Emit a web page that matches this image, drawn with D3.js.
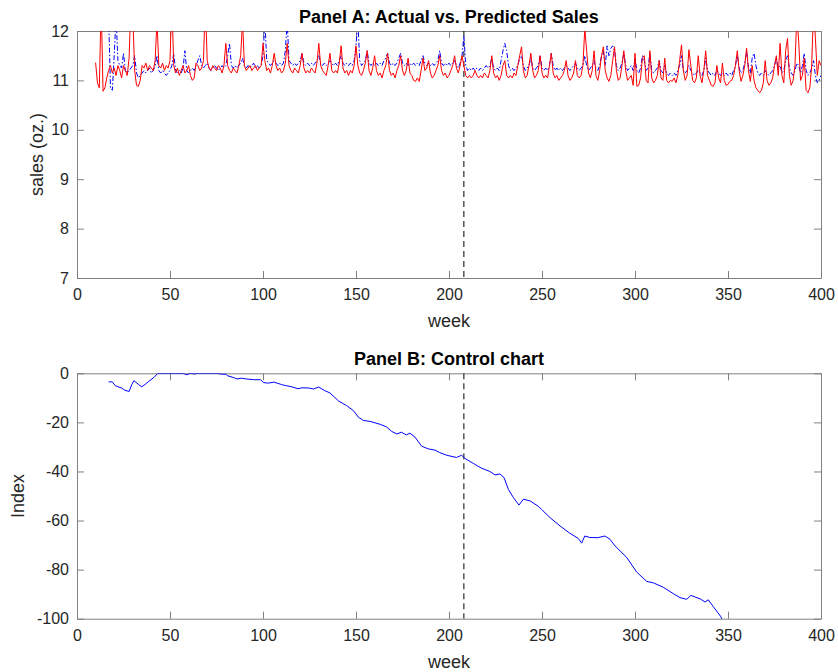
<!DOCTYPE html>
<html>
<head>
<meta charset="utf-8">
<script src="https://cdn.jsdelivr.net/npm/d3@7"></script>
<style>
  body { margin: 0; background: #fff; }
  text { font-family: "Liberation Sans", Arial, sans-serif; }
</style>
</head>
<body>
<div id="main"></div>
<script>
// ---- data ----
var actualStart = 10;   // first week of the actual series
var actualSales = [
  11.36,10.95,10.85,12.6,10.78,10.85,11.05,11.2,11.3,11.15,
  11.25,11.1,11.3,11.2,11.05,11.3,11.2,11.1,11.45,12.6,
  12.3,11.2,10.9,10.88,11.0,11.3,11.25,11.35,11.2,11.3,
  11.25,11.2,11.4,12.2,11.3,11.25,11.35,11.2,11.3,11.25,
  11.4,12.6,11.3,11.15,11.25,11.1,11.2,11.3,11.15,11.2,
  11.3,11.1,11.0,11.05,11.35,11.3,11.2,11.25,11.4,12.6,
  11.4,11.25,11.2,11.3,11.25,11.2,11.3,11.25,11.15,11.3,
  11.75,11.3,11.2,11.15,11.25,11.2,11.15,11.3,11.5,12.2,
  11.3,11.2,11.25,11.3,11.2,11.25,11.3,11.2,11.25,11.3,
  11.75,11.4,11.2,11.25,11.15,11.3,11.55,11.3,11.2,11.25,
  11.15,11.2,11.35,11.75,11.3,11.2,11.15,11.25,11.2,11.15,
  11.3,11.55,11.25,11.15,11.2,11.15,11.25,11.2,11.15,11.35,
  11.75,11.3,11.2,11.15,11.1,11.3,11.55,11.2,11.15,11.2,
  11.15,11.35,11.7,11.25,11.15,11.2,11.1,11.2,11.15,11.3,
  11.7,11.3,11.15,11.1,11.2,11.35,11.6,11.2,11.1,11.25,
  11.5,11.2,11.1,11.15,11.05,11.2,11.3,11.55,11.2,11.1,
  11.15,11.05,11.2,11.3,11.5,11.2,11.1,11.2,11.45,11.15,
  11.1,11.0,10.98,11.05,10.98,11.2,11.45,11.2,11.25,11.4,
  11.15,11.05,11.1,11.2,11.3,11.5,11.2,11.1,11.15,11.05,
  11.1,11.2,11.3,11.5,11.25,11.15,11.3,11.5,11.3,11.1,
  11.05,11.1,11.05,11.1,11.2,11.1,11.05,11.1,11.05,11.15,
  11.1,11.05,11.2,11.5,11.15,11.05,11.1,11.0,11.1,11.3,
  11.4,11.1,11.05,11.1,11.05,11.15,11.1,11.3,11.5,11.68,
  11.2,11.05,11.1,11.3,11.55,11.2,11.05,11.1,11.2,11.5,
  11.15,11.05,11.1,11.05,11.3,11.55,11.15,11.05,11.1,11.0,
  11.05,11.1,11.2,11.4,11.1,11.0,11.05,11.15,11.4,11.1,
  11.05,11.1,11.3,12.05,11.6,11.15,11.05,11.2,11.6,11.1,
  11.0,11.2,11.5,11.68,11.2,11.05,10.98,11.1,11.4,11.68,
  11.2,11.0,11.05,11.3,11.6,11.2,11.0,11.05,11.1,10.9,
  11.55,10.88,10.9,11.05,11.45,11.5,11.0,10.95,11.6,11.05,
  10.95,11.0,11.1,11.4,11.05,11.0,11.45,11.0,10.95,11.0,
  10.98,11.05,10.95,11.1,11.4,11.72,11.2,11.0,11.1,11.62,
  11.3,11.0,10.95,11.05,11.5,11.1,10.95,11.2,11.6,11.1,
  11.0,10.9,10.88,10.95,11.3,11.05,10.95,11.35,11.0,10.9,
  10.92,10.98,11.0,11.1,11.3,11.6,11.2,10.98,11.1,11.3,
  11.65,11.2,10.98,11.3,11.0,10.85,10.8,10.75,10.8,10.95,
  11.4,11.0,10.9,10.95,11.05,11.3,11.5,11.1,11.75,11.1,
  10.95,11.6,11.85,11.1,10.9,11.0,11.3,12.3,11.8,11.0,
  11.1,11.45,10.8,10.75,10.85,11.3,12.5,11.85,11.1,11.4,
  11.3
];

var predictedStart = 17;   // first week of the predicted series
var predictedSales = [
  12.3,10.85,10.8,11.5,12.3,11.4,11.3,11.25,11.55,11.2,
  11.15,11.2,11.25,11.3,11.5,11.15,11.05,11.1,11.15,11.2,
  11.15,11.2,11.25,11.15,11.2,11.3,11.5,11.2,11.15,11.2,
  11.15,11.1,11.15,11.2,11.3,11.55,11.2,11.15,11.2,11.15,
  11.25,11.6,11.2,11.15,11.2,11.25,11.2,11.3,11.4,11.5,
  11.3,11.25,11.3,11.35,11.25,11.2,11.25,11.3,11.25,11.2,
  11.25,11.3,11.25,11.3,11.5,11.75,11.3,11.25,11.3,11.25,
  11.3,11.35,11.45,11.3,11.25,11.3,11.25,11.3,11.35,11.25,
  11.3,11.25,11.3,11.5,12.2,11.4,11.35,11.3,11.35,11.4,
  11.35,11.3,11.35,11.3,11.35,11.6,12.2,11.4,11.35,11.3,
  11.35,11.3,11.35,11.4,11.55,11.35,11.3,11.35,11.3,11.35,
  11.3,11.35,11.4,11.5,11.35,11.3,11.35,11.3,11.35,11.4,
  11.35,11.3,11.35,11.3,11.4,11.5,11.35,11.3,11.35,11.3,
  11.35,11.3,11.4,11.7,12.2,11.4,11.3,11.35,11.4,11.6,
  11.35,11.3,11.35,11.3,11.35,11.3,11.35,11.3,11.4,11.45,
  11.55,11.35,11.3,11.35,11.3,11.35,11.45,11.55,11.35,11.3,
  11.35,11.3,11.35,11.3,11.35,11.3,11.35,11.3,11.4,11.5,
  11.35,11.3,11.35,11.3,11.35,11.3,11.35,11.4,11.6,11.35,
  11.3,11.35,11.3,11.35,11.3,11.35,11.4,11.3,11.25,11.35,
  11.5,11.9,11.3,11.2,11.25,11.2,11.25,11.2,11.25,11.2,
  11.25,11.2,11.25,11.3,11.25,11.3,11.45,11.25,11.2,11.25,
  11.2,11.4,11.6,11.75,11.6,11.3,11.2,11.25,11.2,11.25,
  11.3,11.45,11.5,11.3,11.2,11.25,11.3,11.45,11.25,11.2,
  11.25,11.3,11.5,11.25,11.2,11.25,11.2,11.3,11.55,11.3,
  11.2,11.25,11.2,11.25,11.2,11.25,11.3,11.25,11.2,11.25,
  11.3,11.35,11.25,11.2,11.25,11.3,11.5,11.3,11.2,11.25,
  11.3,11.4,11.25,11.2,11.3,11.5,11.6,11.3,11.7,11.5,
  11.65,11.7,11.6,11.3,11.2,11.25,11.35,11.55,11.3,11.2,
  11.25,11.3,11.2,11.45,11.2,11.15,11.25,11.5,11.4,11.2,
  11.25,11.55,11.2,11.15,11.2,11.25,11.4,11.2,11.15,11.3,
  11.15,11.1,11.15,11.1,11.15,11.1,11.2,11.3,11.5,11.2,
  11.15,11.2,11.3,11.2,11.15,11.1,11.15,11.2,11.15,11.1,
  11.2,11.45,11.2,11.15,11.1,11.15,11.1,11.2,11.15,11.1,
  11.15,11.1,11.15,11.1,11.15,11.1,11.2,11.3,11.5,11.25,
  11.15,11.2,11.35,11.6,11.25,11.15,11.45,11.55,11.3,11.15,
  11.1,11.15,11.1,11.2,11.15,11.1,11.15,11.2,11.3,11.45,
  11.25,11.3,11.15,11.2,11.4,11.5,11.25,11.15,11.1,11.2,
  11.35,11.3,11.15,11.3,11.55,11.2,11.1,11.15,11.25,11.4,
  11.1,10.95,11.0,11.1
];

var controlWeeks = [17,19,20.5,22,24,25.7,28,29.5,30.6,33,34.8,36.7,38.6,41.3,43.5,57,59,61,63,65,75,77.5,80,81,84,86,88.5,91,95,98.6,
  100.4,103,105.8,107.6,110,112,115,118.8,121,124.6,127,130,133,136,140.5,145,148.6,151.3,154,157.6,163,166.5,169.2,172,174.4,177,179,181.7,185.3,188.9,
  192.5,195,198.8,204,206.8,208.6,213,217.6,222,224.7,227.4,229.6,231.9,234.6,237.6,240,243.6,248,249.8,254.3,259.7,265,269.5,271.3,273,275.7,280,283.8,286.5,289.2,
  295.5,300.9,306.3,309.9,315.2,320.6,324.2,327.8,330,335,337.7,339.4,342,346,347];
var controlIndex = [-3.5,-3.5,-5,-5.5,-6,-6.9,-7.4,-4.5,-3,-4.5,-5.5,-4.5,-3.3,-1.7,0,0,-0.6,0,-0.3,0,0,-0.3,-0.4,-1,-1.7,-2.3,-2,-2.3,-2.6,-2.6,
  -3.8,-4,-3.6,-4,-4.6,-5,-5.4,-6.3,-5.9,-6,-6.4,-5.6,-7,-8,-11.2,-13.2,-15.2,-17.9,-19.2,-19.6,-20.8,-21.9,-23.7,-24.7,-24,-25.1,-24.4,-26,-29.7,-30.8,
  -31.3,-32.3,-33.4,-34.3,-33.4,-34.7,-36.7,-38.7,-40,-41.4,-41,-42.5,-47.3,-50.6,-53.7,-51.3,-52,-54.2,-55.5,-58.8,-62.2,-65.2,-67.3,-69.2,-66.3,-66.9,-67,-66.3,-67.6,-70.3,
  -75,-81,-84.8,-85.4,-87.2,-89.8,-91.4,-92.1,-90.5,-91.9,-93.2,-92.3,-95,-99,-100.5];

var breakWeek = 208;
var xTicks = [0,50,100,150,200,250,300,350,400];
var yTicksA = [7,8,9,10,11,12];
var yTicksB = [-100,-80,-60,-40,-20,0];
var titles = ["Panel A: Actual vs. Predicted Sales", "Panel B: Control chart"];
var yLabels = ["sales (oz.)", "Index"];

// ---- layout ----
var ctx = { w: 838, h: 672, left: 77, right: 821, axisColor: "#808080", textColor: "#262626" };

var svg = d3.select("#main").append("svg")
  .attr("width", ctx.w).attr("height", ctx.h);

var xScale = d3.scaleLinear().domain([0, 400]).range([ctx.left, ctx.right]);
// plain hyphen minus, like the reference
var fmt = function(d){ return String(d); };

var drawPanel = function(id, top, bottom, yDomain, yTicks, title, yLabel, yLabelX){
  var y = d3.scaleLinear().domain(yDomain).range([bottom, top]);
  var g = svg.append("g").attr("id", id);

  g.append("clipPath").attr("id", id + "clip")
    .append("rect")
    .attr("x", ctx.left).attr("y", top)
    .attr("width", ctx.right - ctx.left).attr("height", bottom - top);

  var styleAxis = function(sel){
    sel.select(".domain").attr("stroke", ctx.axisColor);
    sel.selectAll(".tick line").attr("stroke", ctx.axisColor);
    sel.selectAll("text").attr("fill", ctx.textColor).style("font-size", "16px")
      .style("font-family", "'Liberation Sans', Arial, sans-serif");
  };
  // bottom + top x axes (ticks inward, mirrored)
  g.append("g").attr("transform", `translate(0,${bottom})`)
    .call(d3.axisBottom(xScale).tickValues(xTicks).tickFormat(fmt).tickSizeInner(-7).tickSizeOuter(0).tickPadding(11))
    .call(styleAxis);
  g.append("g").attr("transform", `translate(0,${top})`)
    .call(d3.axisTop(xScale).tickValues(xTicks).tickSizeInner(-7).tickSizeOuter(0).tickFormat(""))
    .call(styleAxis);
  // left + right y axes
  g.append("g").attr("transform", `translate(${ctx.left},0)`)
    .call(d3.axisLeft(y).tickValues(yTicks).tickFormat(fmt).tickSizeInner(-7).tickSizeOuter(0).tickPadding(8))
    .call(styleAxis);
  g.append("g").attr("transform", `translate(${ctx.right},0)`)
    .call(d3.axisRight(y).tickValues(yTicks).tickSizeInner(-7).tickSizeOuter(0).tickFormat(""))
    .call(styleAxis);

  // title
  g.append("text")
    .attr("x", (ctx.left + ctx.right) / 2).attr("y", top - 8)
    .attr("text-anchor", "middle")
    .style("font-size", "18px").style("font-weight", "bold")
    .attr("fill", "#000")
    .text(title);
  // x label
  g.append("text")
    .attr("x", (ctx.left + ctx.right) / 2).attr("y", bottom + 49)
    .attr("text-anchor", "middle")
    .style("font-size", "18px")
    .attr("fill", ctx.textColor)
    .text("week");
  // y label
  g.append("text")
    .attr("transform", `translate(${yLabelX},${(top + bottom) / 2}) rotate(-90)`)
    .attr("text-anchor", "middle")
    .style("font-size", "18px")
    .attr("fill", ctx.textColor)
    .text(yLabel);

  var plot = g.append("g").attr("clip-path", `url(#${id}clip)`);
  // dashed vertical break line
  plot.append("line")
    .attr("x1", xScale(breakWeek)).attr("x2", xScale(breakWeek))
    .attr("y1", top).attr("y2", bottom)
    .attr("stroke", "#000").attr("stroke-width", 1)
    .attr("stroke-dasharray", "6,4");
  return { y: y, plot: plot };
};

// Panel A
var pA = drawPanel("panelA", 31, 278, [7, 12], yTicksA, titles[0], yLabels[0], 43);
var lineA = d3.line()
  .x(function(d){ return xScale(d.week); })
  .y(function(d){ return pA.y(d.value); });
var actualData = actualSales.map(function(v, i){ return { week: actualStart + i, value: v }; });
var predictedData = predictedSales.map(function(v, i){ return { week: predictedStart + i, value: v }; });

pA.plot.append("path").datum(predictedData)
  .attr("d", lineA)
  .attr("fill", "none").attr("stroke", "#0000ff").attr("stroke-width", 1)
  .attr("stroke-dasharray", "5,2,1.5,2");
pA.plot.append("path").datum(actualData)
  .attr("d", lineA)
  .attr("fill", "none").attr("stroke", "#ff0000").attr("stroke-width", 1);

// Panel B
var pB = drawPanel("panelB", 373.3, 618.7, [-100, 0], yTicksB, titles[1], yLabels[1], 24);
var controlData = controlWeeks.map(function(w, i){ return { week: w, value: controlIndex[i] }; });
pB.plot.append("path").datum(controlData)
  .attr("d", d3.line()
    .x(function(d){ return xScale(d.week); })
    .y(function(d){ return pB.y(d.value); }))
  .attr("fill", "none").attr("stroke", "#0000ff").attr("stroke-width", 1);
</script>
</body>
</html>
